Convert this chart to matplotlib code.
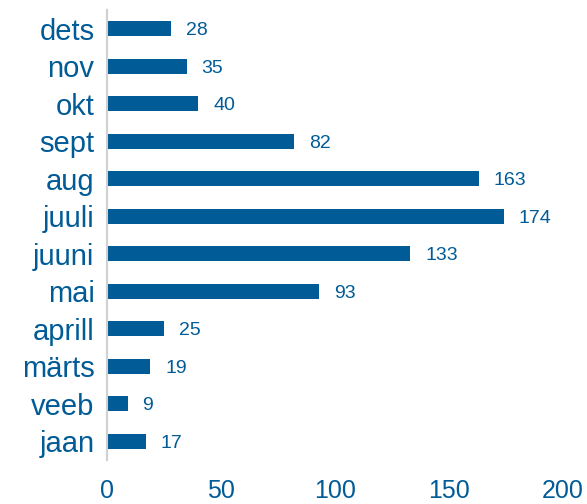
import matplotlib
matplotlib.use("Agg")
import matplotlib.pyplot as plt

months = ["jaan", "veeb", "märts", "aprill", "mai", "juuni",
          "juuli", "aug", "sept", "okt", "nov", "dets"]
values = [17, 9, 19, 25, 93, 133, 174, 163, 82, 40, 35, 28]

BLUE = "#005b96"
plt.rcParams["font.family"] = ["Liberation Sans Narrow", "Liberation Sans", "DejaVu Sans"]

fig = plt.figure(figsize=(5.87, 5.04), dpi=100)
ax = fig.add_axes([107 / 587, 1 - 460 / 504, 456 / 587, 450 / 504])

ypos = list(range(len(months)))
ax.barh(ypos, values, height=0.4, color=BLUE)
for y, v in zip(ypos, values):
    ax.text(v + 6.5, y - 0.05, str(v), va="center", ha="left", fontsize=14, color=BLUE)

ax.set_xlim(0, 200)
ax.set_ylim(-0.5, len(months) - 0.5)
ax.set_yticks(ypos)
ax.set_yticklabels(months, fontsize=21, color=BLUE)
ax.set_xticks([0, 50, 100, 150, 200])
ax.tick_params(axis="x", labelsize=18, labelcolor=BLUE, length=0, pad=14)
ax.tick_params(axis="y", length=0, pad=9)

for side in ["top", "right", "bottom"]:
    ax.spines[side].set_visible(False)
ax.spines["left"].set_color("#d0d0d0")
ax.spines["left"].set_linewidth(1.5)

fig.savefig("out.png", dpi=100)
